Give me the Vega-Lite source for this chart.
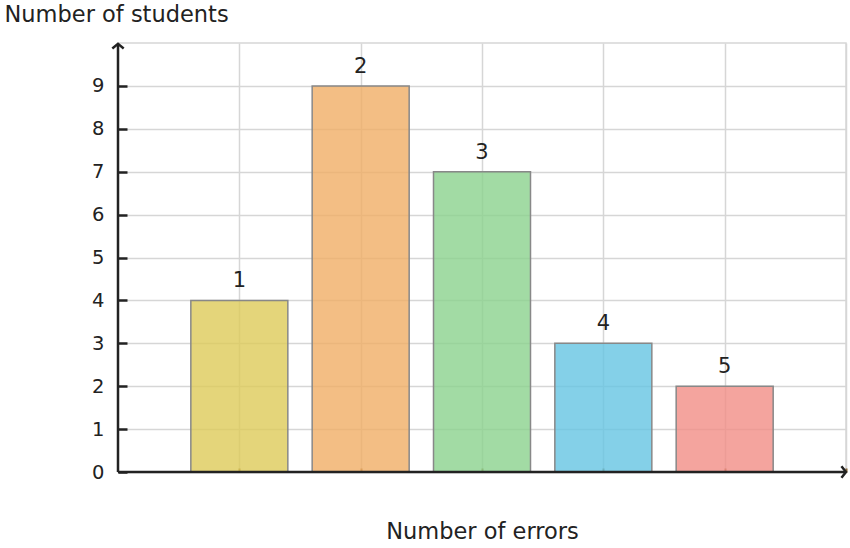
{
  "$schema": "https://vega.github.io/schema/vega-lite/v6.json",
  "width": 728,
  "height": 429,
  "autosize": "none",
  "padding": {"left": 118, "top": 43, "right": 4, "bottom": 76},
  "config": {
    "font": "DejaVu Sans",
    "view": {"stroke": "#d6d6d6", "strokeWidth": 1.5},
    "axis": {"labelFont": "DejaVu Sans", "titleFont": "DejaVu Sans", "gridColor": "#d6d6d6", "gridWidth": 1.5, "labelColor": "#222", "titleColor": "#222", "titleFontWeight": "normal"},
    "text": {"font": "DejaVu Sans"}
  },
  "datasets": {
    "errors": [
      {"errors": 1, "students": 4},
      {"errors": 2, "students": 9},
      {"errors": 3, "students": 7},
      {"errors": 4, "students": 3},
      {"errors": 5, "students": 2}
    ],
    "axes": [
      {"x": 0, "y": 0, "x2": 6.0, "y2": 0},
      {"x": 0, "y": 0, "x2": 0, "y2": 9.98}
    ]
  },
  "layer": [
    {
      "data": {"name": "errors"},
      "mark": {"type": "bar", "width": 97, "fillOpacity": 0.8, "stroke": "#888888", "strokeWidth": 1.5},
      "encoding": {
        "x": {
          "field": "errors",
          "type": "quantitative",
          "scale": {"domain": [0, 6], "nice": false, "zero": false, "padding": 0},
          "axis": {
            "values": [1, 2, 3, 4, 5, 6],
            "labels": false,
            "domain": false,
            "tickSize": -4,
            "tickWidth": 2,
            "tickColor": "#8a6a3a",
            "title": "Number of errors",
            "titleFontSize": 22.5,
            "titleBaseline": "alphabetic",
            "titleY": 66
          }
        },
        "y": {
          "field": "students",
          "type": "quantitative",
          "scale": {"domain": [0, 10], "nice": false, "padding": 0},
          "axis": {
            "values": [0, 1, 2, 3, 4, 5, 6, 7, 8, 9],
            "domain": false,
            "tickSize": -9,
            "tickWidth": 2.5,
            "tickColor": "#222",
            "labelFontSize": 19.5,
            "labelPadding": 23,
            "title": "Number of students",
            "titleFontSize": 22.5,
            "titleAngle": 0,
            "titleAlign": "left",
            "titleBaseline": "alphabetic",
            "titleX": -114,
            "titleY": -22
          }
        },
        "color": {
          "field": "errors",
          "type": "nominal",
          "scale": {"range": ["#ddcb59", "#f0ae65", "#8bd28d", "#65c4e2", "#f18d86"]},
          "legend": null
        }
      }
    },
    {
      "data": {"name": "errors"},
      "mark": {"type": "text", "fontSize": 21, "baseline": "alphabetic", "dy": -13, "color": "#222", "font": "DejaVu Sans"},
      "encoding": {
        "x": {"field": "errors", "type": "quantitative"},
        "y": {"field": "students", "type": "quantitative"},
        "text": {"field": "errors", "type": "nominal"}
      }
    },
    {
      "data": {"name": "axes"},
      "mark": {"type": "rule", "color": "#222", "strokeWidth": 2.5},
      "encoding": {
        "x": {"field": "x", "type": "quantitative"},
        "y": {"field": "y", "type": "quantitative"},
        "x2": {"field": "x2"},
        "y2": {"field": "y2"}
      }
    },
    {
      "data": {"name": "axes"},
      "transform": [{"filter": "datum.x2 == 0"}],
      "mark": {"type": "point", "shape": "M-1,0.8L0,0L1,0.8", "size": 130, "filled": false, "stroke": "#222", "strokeWidth": 2.5, "opacity": 1},
      "encoding": {
        "x": {"field": "x2", "type": "quantitative"},
        "y": {"field": "y2", "type": "quantitative"}
      }
    },
    {
      "data": {"name": "axes"},
      "transform": [{"filter": "datum.y2 == 0"}],
      "mark": {"type": "point", "shape": "M-0.8,-1L0,0L-0.8,1", "size": 130, "filled": false, "stroke": "#222", "strokeWidth": 2.5, "opacity": 1},
      "encoding": {
        "x": {"field": "x2", "type": "quantitative"},
        "y": {"field": "y2", "type": "quantitative"}
      }
    }
  ]
}
